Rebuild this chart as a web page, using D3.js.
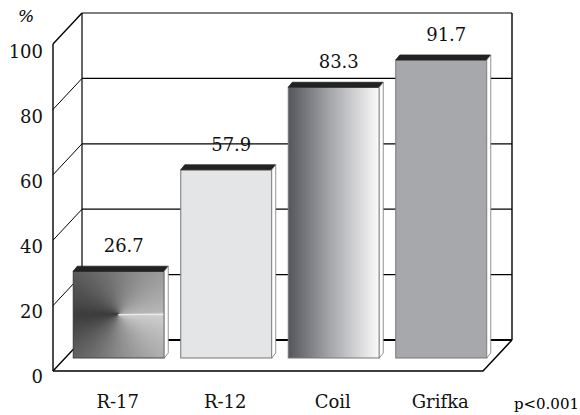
<!DOCTYPE html>
<html lang="en">
<head>
<meta charset="utf-8">
<title>Bar chart 3D</title>
<script src="https://cdn.jsdelivr.net/npm/d3@7"></script>
<style>
  body { margin: 0; background: #fff; }
</style>
</head>
<body>
<svg width="580" height="415"></svg>
<script>
// data
var categories = ["R-17", "R-12", "Coil", "Grifka"];
var values = [26.7, 57.9, 83.3, 91.7];
var valueLabels = ["26.7", "57.9", "83.3", "91.7"];
var yTicks = [0, 20, 40, 60, 80, 100];
var note = "p<0.001";

var serif = "'DejaVu Serif', 'Liberation Serif', serif";

var svg = d3.select("svg");
var defs = svg.append("defs");

// depth of the box (front -> back)
var dx = 29, dy = -31;

var xFront = d3.scaleLinear().domain([0, 1]).range([53, 483]);
var yFront = d3.scaleLinear().domain([0, 100]).range([371, 44]);
var yLabel = d3.scaleLinear().domain([0, 100]).range([377, 52]);

// bars sit half way into the box
var xBar = d3.scaleBand().domain(categories).range([65, 495])
    .paddingInner(0.1535).paddingOuter(0.0767);
var yBar = d3.scaleLinear().domain([0, 100]).range([358, 33]);
var bdx = 4, bdy = -5;

var walls = svg.append("g").attr("stroke", "#000").attr("fill", "none");

// back wall grid lines
walls.selectAll("line.grid")
  .data(yTicks)
  .enter().append("line")
    .attr("x1", xFront(0) + dx)
    .attr("x2", xFront(1) + dx)
    .attr("y1", function (d) { return yFront(d) + dy; })
    .attr("y2", function (d) { return yFront(d) + dy; })
    .attr("stroke-width", function (d) { return d === 0 ? 2.2 : 1.2; });

// left wall diagonals
walls.selectAll("line.diag")
  .data(yTicks)
  .enter().append("line")
    .attr("x1", xFront(0))
    .attr("x2", xFront(0) + dx)
    .attr("y1", function (d) { return yFront(d); })
    .attr("y2", function (d) { return yFront(d) + dy; })
    .attr("stroke-width", function (d) { return d === 0 || d === 100 ? 1.4 : 1; });

// verticals
walls.append("line")
  .attr("x1", xFront(0)).attr("x2", xFront(0))
  .attr("y1", yFront(100)).attr("y2", yFront(0)).attr("stroke-width", 1.4);
walls.append("line")
  .attr("x1", xFront(0) + dx).attr("x2", xFront(0) + dx)
  .attr("y1", yFront(100) + dy).attr("y2", yFront(0) + dy).attr("stroke-width", 1.2);
walls.append("line")
  .attr("x1", xFront(1) + dx).attr("x2", xFront(1) + dx)
  .attr("y1", yFront(100) + dy).attr("y2", yFront(0) + dy).attr("stroke-width", 1.4);

// floor
walls.append("path")
  .attr("d", d3.line()([[xFront(0), yFront(0)], [xFront(1), yFront(0)], [xFront(1) + dx, yFront(0) + dy]]))
  .attr("stroke-width", 1.4);

// gradients
var coilGrad = defs.append("linearGradient").attr("id", "coilGrad");
coilGrad.append("stop").attr("offset", "0%").attr("stop-color", "#55565c");
coilGrad.append("stop").attr("offset", "45%").attr("stop-color", "#a3a4a8");
coilGrad.append("stop").attr("offset", "100%").attr("stop-color", "#fbfbfb");

var fills = ["none", "#e4e5e7", "url(#coilGrad)", "#a7a8ac"];

var bars = svg.append("g");

categories.forEach(function (c, i) {
  var x0 = xBar(c), w = xBar.bandwidth();
  var top = yBar(values[i]), bottom = yBar(0);
  var g = bars.append("g");

  if (i === 0) {
    // angular shading for the first bar
    defs.append("clipPath").attr("id", "clip0")
      .append("rect").attr("x", x0).attr("y", top).attr("width", w).attr("height", bottom - top);
    var cx = x0 + w / 2, cy = (top + bottom) / 2;
    var col = d3.scaleLinear()
      .domain([0, 0.25, 0.5, 0.75, 1])
      .range(["#b8b8b8", "#7c7c7c", "#3c3c3c", "#8c8c8c", "#d0d0d0"]);
    var n = 120;
    var arc = d3.arc().innerRadius(0).outerRadius(90);
    var wedges = g.append("g").attr("clip-path", "url(#clip0)")
      .append("g")
      .attr("transform", "translate(" + cx + "," + cy + ")");
    wedges.selectAll("path")
      .data(d3.range(n))
      .enter().append("path")
        .attr("d", function (k) {
          return arc({ startAngle: Math.PI / 2 - (k + 1) * 2 * Math.PI / n - 0.04,
                       endAngle: Math.PI / 2 - k * 2 * Math.PI / n });
        })
        .attr("fill", function (k) { return col(k / n); })
        .attr("stroke", function (k) { return col(k / n); })
        .attr("stroke-width", 0.6);
    wedges.append("line").attr("x1", 0).attr("x2", 60).attr("y1", 0).attr("y2", 0)
      .attr("stroke", "#f0f0f0").attr("stroke-width", 1);
    g.append("rect").attr("x", x0).attr("y", top).attr("width", w).attr("height", bottom - top)
      .attr("fill", "none").attr("stroke", "#444").attr("stroke-width", 1);
  } else {
    g.append("rect").attr("x", x0).attr("y", top).attr("width", w).attr("height", bottom - top)
      .attr("fill", fills[i]).attr("stroke", "#777").attr("stroke-width", 1);
  }

  // top face
  g.append("path")
    .attr("d", d3.line()([[x0, top], [x0 + bdx, top + bdy], [x0 + w + bdx, top + bdy], [x0 + w, top]]) + "Z")
    .attr("fill", "#222").attr("stroke", "#222").attr("stroke-width", 0.8);
  // side face
  g.append("path")
    .attr("d", d3.line()([[x0 + w, top], [x0 + w + bdx, top + bdy], [x0 + w + bdx, bottom + bdy], [x0 + w, bottom]]) + "Z")
    .attr("fill", "#fff").attr("stroke", "#777").attr("stroke-width", 0.8);
});

// value labels
svg.selectAll("text.val")
  .data(values)
  .enter().append("text")
    .classed("val", true)
    .attr("text-anchor", "middle")
    .style("font-family", serif)
    .style("font-size", "18px")
    .attr("fill", "#111")
    .attr("x", function (d, i) { return xBar(categories[i]) + xBar.bandwidth() / 2 + 5; })
    .attr("y", function (d) { return yBar(d) + bdy - 14; })
    .text(function (d, i) { return valueLabels[i]; });

// y axis labels
var axisY = d3.axisLeft(yLabel).tickValues(yTicks).tickSize(0).tickPadding(0);
var gy = svg.append("g").attr("transform", "translate(43,0)").call(axisY);
gy.select(".domain").remove();
gy.selectAll("text").style("font-size", "18px").style("font-family", serif).attr("fill", "#111");

// category labels
var xLabel = d3.scaleBand().domain(categories).range(xBar.range())
    .paddingInner(xBar.paddingInner()).paddingOuter(xBar.paddingOuter());
var axisX = d3.axisBottom(xLabel).tickSize(0).tickPadding(0);
var gx = svg.append("g").attr("transform", "translate(-1,408)").call(axisX);
gx.select(".domain").remove();
gx.selectAll("text").style("font-size", "18px").style("font-family", serif)
  .attr("fill", "#111").attr("dy", "0");

svg.append("text")
  .attr("x", 26).attr("y", 22)
  .attr("text-anchor", "middle")
  .style("font-family", serif)
  .style("font-size", "17px").style("font-style", "italic")
  .text("%");

svg.append("text")
  .attr("x", 579).attr("y", 409)
  .attr("text-anchor", "end")
  .style("font-family", serif)
  .style("font-size", "15px")
  .text(note);
</script>
</body>
</html>
